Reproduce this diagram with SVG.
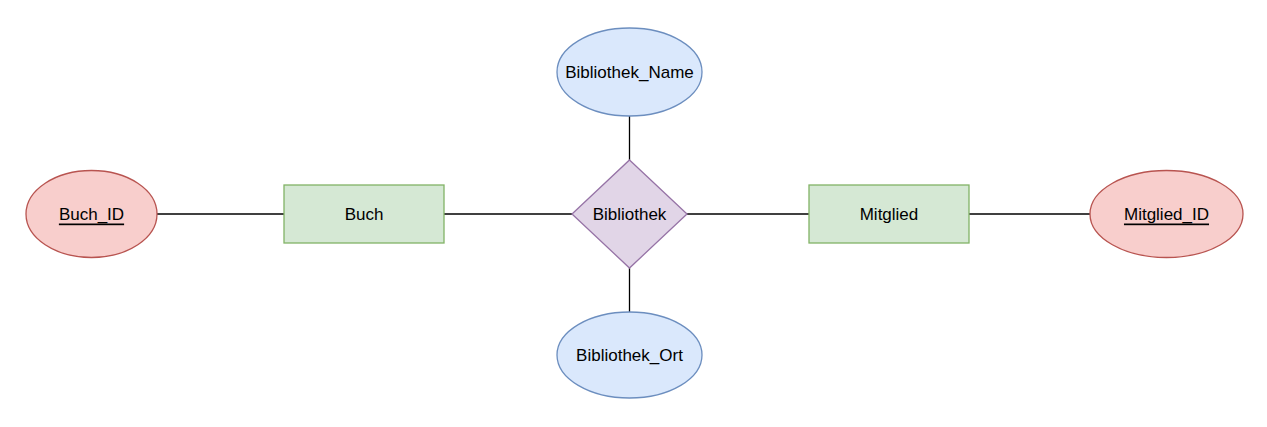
<svg xmlns="http://www.w3.org/2000/svg" width="1267" height="427" viewBox="0 0 1267 427">
<style>
text{font-family:"Liberation Sans",Arial,sans-serif;font-size:17px;fill:#000;text-anchor:middle;dominant-baseline:central}
.key{fill:#f8cecc;stroke:#b85450;stroke-width:1.3}
.ent{fill:#d5e8d4;stroke:#82b366;stroke-width:1.3}
.rel{fill:#e1d5e7;stroke:#9673a6;stroke-width:1.3}
.att{fill:#dae8fc;stroke:#6c8ebf;stroke-width:1.3}
.u{text-decoration:underline}
.c line{stroke:#000;stroke-width:1.3}
</style>
<rect width="1267" height="427" fill="#fff"/>
<g class="c" id="connectors">
<line x1="157" y1="214" x2="284" y2="214"/>
<line x1="444" y1="214" x2="572" y2="214"/>
<line x1="687" y1="214" x2="809" y2="214"/>
<line x1="969" y1="214" x2="1090" y2="214"/>
<line x1="629.5" y1="116" x2="629.5" y2="160"/>
<line x1="629.5" y1="268" x2="629.5" y2="312"/>
</g>
<g id="buch_id"><ellipse class="key" cx="91.5" cy="214" rx="65.5" ry="43.5"/><text class="u" x="91.5" y="214">Buch_ID</text></g>
<g id="buch"><rect class="ent" x="284" y="185" width="160" height="58"/><text x="364" y="214">Buch</text></g>
<g id="bibliothek"><polygon class="rel" points="629.5,160 687,214 629.5,268 572,214"/><text x="629.5" y="214">Bibliothek</text></g>
<g id="mitglied"><rect class="ent" x="809" y="185" width="160" height="58"/><text x="889" y="214">Mitglied</text></g>
<g id="mitglied_id"><ellipse class="key" cx="1166.5" cy="214" rx="76.5" ry="43.5"/><text class="u" x="1166.5" y="214">Mitglied_ID</text></g>
<g id="bibliothek_name"><ellipse class="att" cx="629.5" cy="72" rx="72.5" ry="44"/><text x="629.5" y="72">Bibliothek_Name</text></g>
<g id="bibliothek_ort"><ellipse class="att" cx="629.5" cy="355" rx="72.5" ry="43"/><text x="629.5" y="355">Bibliothek_Ort</text></g>
</svg>
